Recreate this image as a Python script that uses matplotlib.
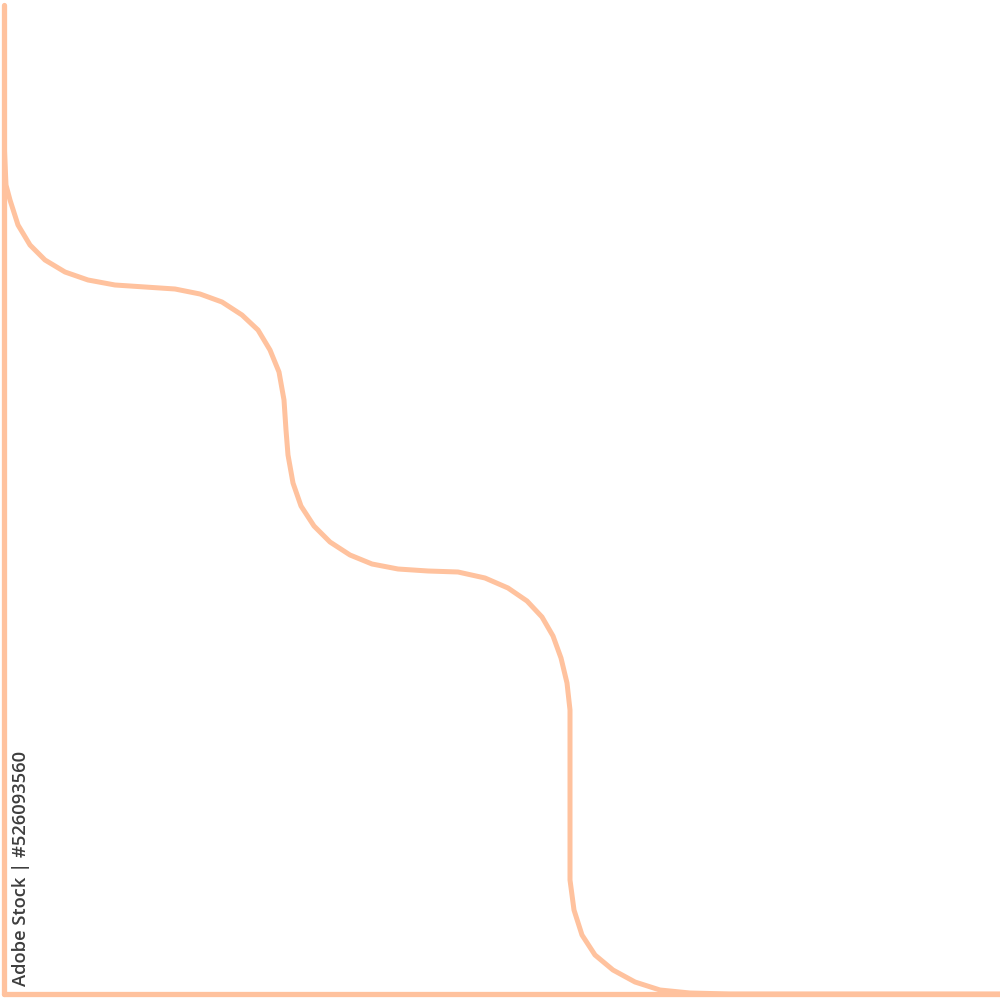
import matplotlib
matplotlib.use("Agg")
import matplotlib.pyplot as plt

# curve samples (x, y), origin at axes corner
curve_x = [0, 2, 6, 14, 26, 41, 61, 84, 111, 141, 171, 196, 218, 238, 254, 266, 275, 280, 282,
           284, 289, 297, 310, 326, 346, 368, 394, 424, 454, 481, 504, 523, 538, 549, 557, 563,
           566, 566, 566, 566, 570, 578, 591, 609, 631, 656, 686, 726, 996]
curve_y = [854, 809, 794, 769, 749, 734, 722, 714, 709, 707, 705, 700, 692, 679, 664, 644, 622,
           594, 564, 539, 511, 488, 468, 452, 439, 430, 425, 423, 422, 416, 406, 393, 377, 358,
           336, 311, 284, 234, 174, 114, 84, 59, 39, 24, 12, 4, 1, 0, 0]

watermark = "Adobe Stock | #526093560"
color = "#FFC29E"

fig = plt.figure(figsize=(10, 10), dpi=100)
ax = fig.add_axes([0.004, 0.006, 0.996, 0.989])
ax.plot(curve_x, curve_y, color=color, lw=3.6, solid_capstyle="round", solid_joinstyle="round")
ax.set_xlim(0, 996)
ax.set_ylim(0, 989)
for s in ["top", "right"]:
    ax.spines[s].set_visible(False)
for s in ["left", "bottom"]:
    ax.spines[s].set_color(color)
    ax.spines[s].set_linewidth(3.8)
    ax.spines[s].set_capstyle("round")
ax.set_xticks([])
ax.set_yticks([])
fig.text(0.0215, 0.0145, watermark, rotation=90, ha="center", va="bottom",
         fontsize=13.2, fontweight="semibold", color="#3d3d3d",
         family=["Open Sans", "DejaVu Sans"])
fig.savefig("out.png", dpi=100, facecolor="white")
